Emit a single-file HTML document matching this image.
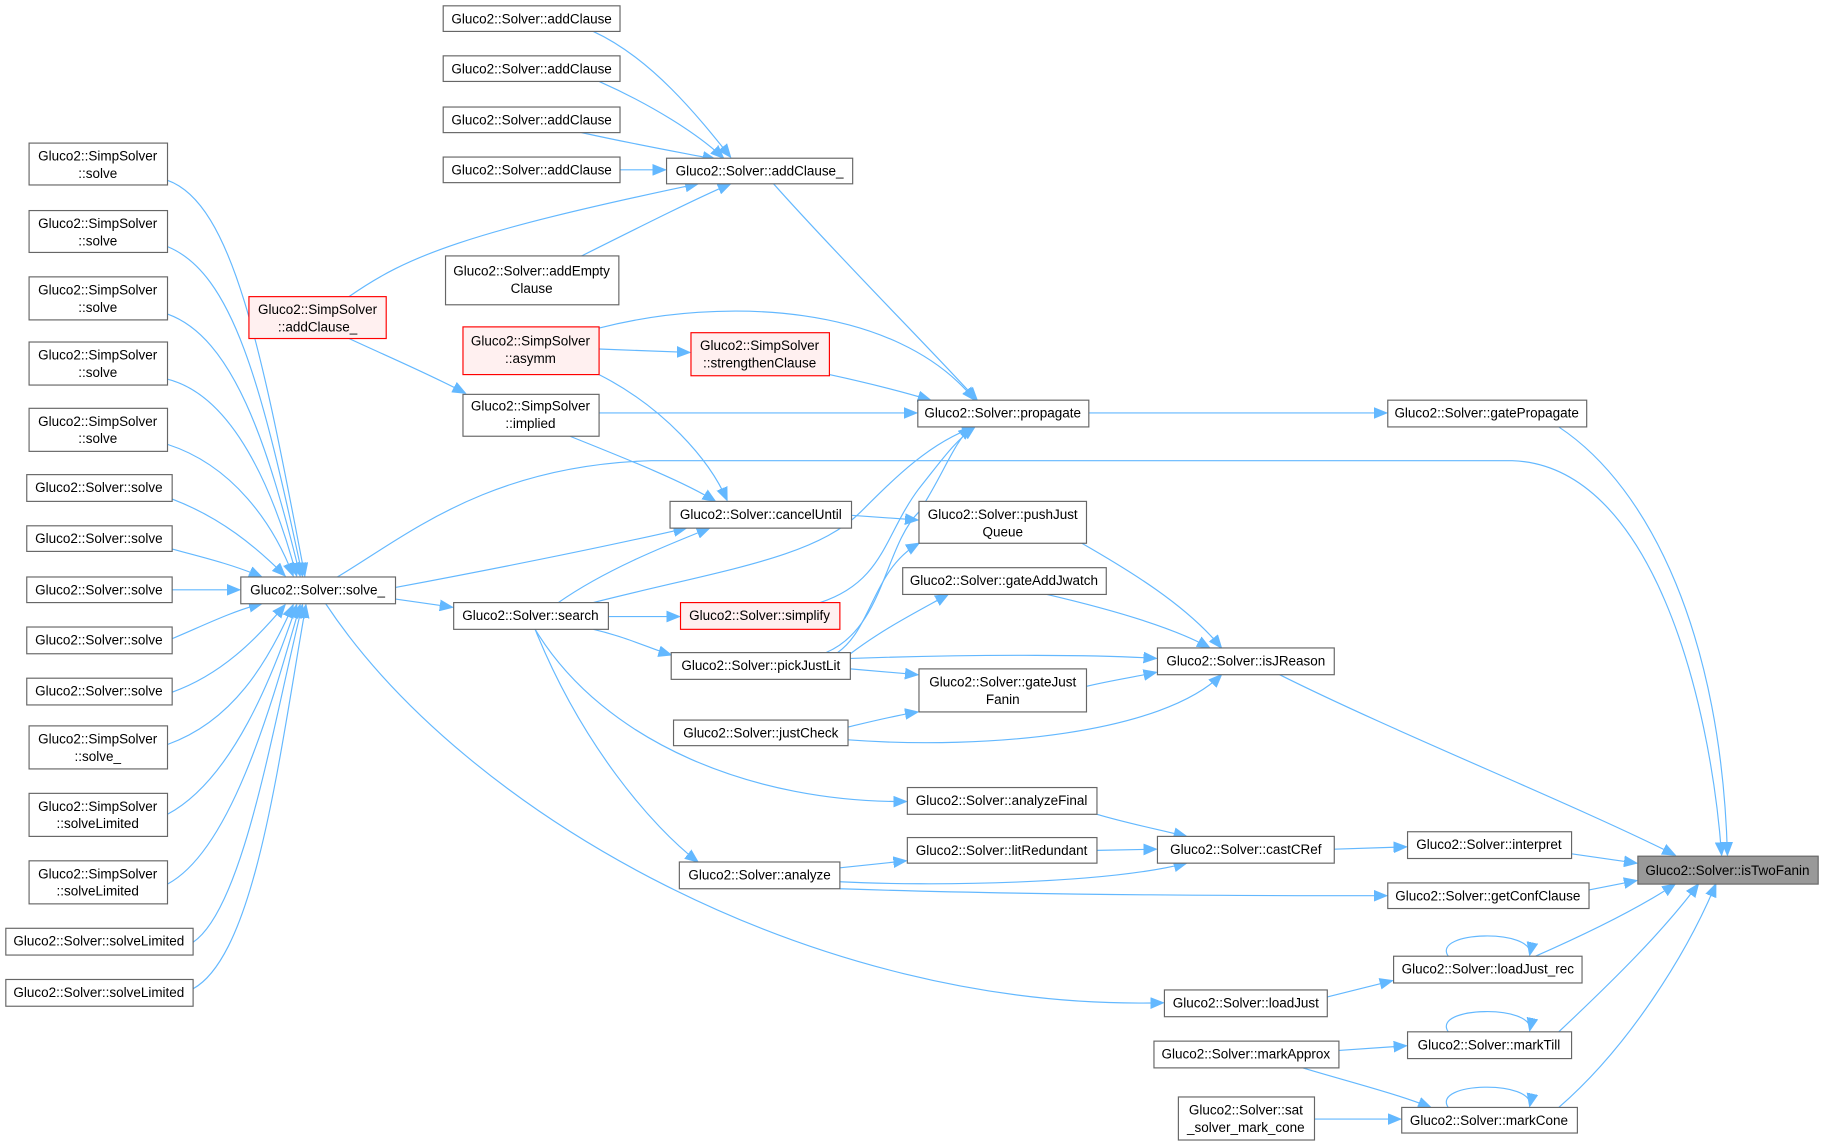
<!DOCTYPE html>
<html><head><meta charset="utf-8"><style>
html,body{margin:0;padding:0;background:#fff}
svg{display:block}
text{font-family:"Liberation Sans",Arial,sans-serif;font-size:11.6px;fill:#000}
.n{fill:#fff;stroke:#666;stroke-width:1}
.r{fill:#fff0f0;stroke:#ff0000;stroke-width:1}
.g{fill:#999;stroke:#666;stroke-width:1}
.e{fill:none;stroke:#63b8ff;stroke-width:1}
</style></head><body>
<svg width="1824" height="1147" viewBox="0 0 1568 986" xmlns="http://www.w3.org/2000/svg">
<defs><marker id="a" markerUnits="userSpaceOnUse" markerWidth="12" markerHeight="10" refX="11" refY="5" orient="auto"><path d="M0,0.5 L11,5 L0,9.5 z" fill="#63b8ff" stroke="#63b8ff"/></marker></defs>
<g marker-end="url(#a)">
<path class="e" d="M510,27 C560,50 600,100 628,135"/>
<path class="e" d="M515,70 C560,90 600,115 622,136"/>
<path class="e" d="M500,114 C550,125 590,132 615,137"/>
<path class="e" d="M533,146 L572,146"/>
<path class="e" d="M300,255 C350,220 400,200 600,158"/>
<path class="e" d="M500,220 C560,190 600,170 628,158"/>
<path class="e" d="M665,158 C720,220 800,300 840,344"/>
<path class="e" d="M515,282 C620,255 770,260 838,344"/>
<path class="e" d="M515,300 L593,303"/>
<path class="e" d="M713,322 C750,330 780,338 800,344"/>
<path class="e" d="M300,291 C330,305 370,322 400,338"/>
<path class="e" d="M515,355 L788,355"/>
<path class="e" d="M936,355 L1192,355"/>
<path class="e" d="M1340,367 C1420,420 1480,550 1485,735"/>
<path class="e" d="M290,496 C350,460 420,400 560,396 L1300,396 C1420,400 1470,600 1480,735"/>
<path class="e" d="M515,322 C570,350 610,395 625,430"/>
<path class="e" d="M490,375 C540,395 590,415 615,431"/>
<path class="e" d="M340,505 C420,490 520,470 590,454"/>
<path class="e" d="M480,518 C520,490 570,470 610,454"/>
<path class="e" d="M732,443 L789,447"/>
<path class="e" d="M510,518 C620,490 700,480 740,440 C770,410 800,380 838,367"/>
<path class="e" d="M710,561 C760,540 760,470 790,440 C810,410 820,380 835,367"/>
<path class="e" d="M705,518 C760,500 760,460 790,420 C810,395 820,380 838,367"/>
<path class="e" d="M720,561 C750,540 750,490 790,467"/>
<path class="e" d="M731,562 C760,540 790,525 815,511"/>
<path class="e" d="M731,566 C850,562 950,563 994,566"/>
<path class="e" d="M731,575 L789,580"/>
<path class="e" d="M729,625 C750,620 770,615 789,612"/>
<path class="e" d="M729,636 C850,645 1000,630 1050,580"/>
<path class="e" d="M930,467 C970,490 1020,520 1050,557"/>
<path class="e" d="M900,511 C960,525 1010,540 1040,557"/>
<path class="e" d="M934,590 C955,585 975,582 994,578"/>
<path class="e" d="M1100,580 C1200,630 1350,690 1440,735"/>
<path class="e" d="M340,515 L389,522"/>
<path class="e" d="M523,530 L584,530"/>
<path class="e" d="M510,541 C540,548 560,558 577,563"/>
<path class="e" d="M460,541 C520,640 650,690 779,689"/>
<path class="e" d="M460,541 C500,640 560,710 600,741"/>
<path class="e" d="M943,700 C970,708 1000,714 1020,719"/>
<path class="e" d="M943,731 L994,730"/>
<path class="e" d="M722,746 L779,740"/>
<path class="e" d="M722,758 C800,762 950,760 1020,742"/>
<path class="e" d="M722,764 C900,770 1100,770 1192,770"/>
<path class="e" d="M1147,730 L1209,728"/>
<path class="e" d="M1351,734 L1407,742"/>
<path class="e" d="M1366,765 L1407,757"/>
<path class="e" d="M280,519 C400,700 700,870 1000,862"/>
<path class="e" d="M1141,857 L1197,843"/>
<path class="e" d="M1320,822 C1370,800 1410,780 1440,760"/>
<path class="e" d="M1245,822 C1230,800 1320,798 1315,821"/>
<path class="e" d="M1151,903 L1209,899"/>
<path class="e" d="M1340,887 C1390,840 1430,800 1460,760"/>
<path class="e" d="M1245,887 C1230,865 1320,863 1315,886"/>
<path class="e" d="M1120,918 C1160,930 1200,940 1230,952"/>
<path class="e" d="M1130,962 L1204,962"/>
<path class="e" d="M1340,952 C1400,900 1450,820 1475,760"/>
<path class="e" d="M1245,952 C1230,930 1320,928 1315,951"/>
<!-- left column -->
<path class="e" d="M144,155 C200,175 225,300 262,495"/>
<path class="e" d="M144,212 C200,235 225,330 260,495"/>
<path class="e" d="M144,270 C200,290 230,380 258,495"/>
<path class="e" d="M144,326 C200,340 235,420 255,495"/>
<path class="e" d="M144,382 C200,400 235,450 252,495"/>
<path class="e" d="M148,429 C190,445 220,470 245,495"/>
<path class="e" d="M148,472 C170,478 200,485 225,496"/>
<path class="e" d="M148,507 L206,507"/>
<path class="e" d="M148,549 C170,540 200,525 225,519"/>
<path class="e" d="M148,595 C190,580 220,550 245,520"/>
<path class="e" d="M144,640 C200,620 230,570 252,520"/>
<path class="e" d="M144,700 C200,670 235,580 255,520"/>
<path class="e" d="M144,760 C200,730 235,600 258,520"/>
<path class="e" d="M166,810 C210,780 235,620 260,520"/>
<path class="e" d="M166,850 C220,820 240,650 263,520"/>
</g>
<!-- nodes -->
<g>
<rect class="n" x="381" y="5" width="152" height="22"/><text x="457" y="20" text-anchor="middle">Gluco2::Solver::addClause</text>
<rect class="n" x="381" y="48" width="152" height="22"/><text x="457" y="63" text-anchor="middle">Gluco2::Solver::addClause</text>
<rect class="n" x="381" y="92" width="152" height="22"/><text x="457" y="107" text-anchor="middle">Gluco2::Solver::addClause</text>
<rect class="n" x="381" y="135" width="152" height="22"/><text x="457" y="150" text-anchor="middle">Gluco2::Solver::addClause</text>
<rect class="n" x="573" y="136" width="160" height="22"/><text x="653" y="151" text-anchor="middle">Gluco2::Solver::addClause_</text>
<rect class="n" x="383" y="220" width="149" height="42"/><text x="457" y="237" text-anchor="middle">Gluco2::Solver::addEmpty</text><text x="457" y="252" text-anchor="middle">Clause</text>
<rect class="r" x="214" y="255" width="118" height="36"/><text x="273" y="270" text-anchor="middle">Gluco2::SimpSolver</text><text x="273" y="285" text-anchor="middle">::addClause_</text>
<rect class="r" x="398" y="281" width="117" height="41"/><text x="456" y="297" text-anchor="middle">Gluco2::SimpSolver</text><text x="456" y="312" text-anchor="middle">::asymm</text>
<rect class="r" x="594" y="286" width="119" height="37"/><text x="653" y="301" text-anchor="middle">Gluco2::SimpSolver</text><text x="653" y="316" text-anchor="middle">::strengthenClause</text>
<rect class="n" x="398" y="339" width="117" height="36"/><text x="456" y="353" text-anchor="middle">Gluco2::SimpSolver</text><text x="456" y="368" text-anchor="middle">::implied</text>
<rect class="n" x="789" y="344" width="147" height="23"/><text x="862" y="359" text-anchor="middle">Gluco2::Solver::propagate</text>
<rect class="n" x="1193" y="344" width="171" height="23"/><text x="1278" y="359" text-anchor="middle">Gluco2::Solver::gatePropagate</text>
<rect class="n" x="576" y="431" width="156" height="23"/><text x="654" y="446" text-anchor="middle">Gluco2::Solver::cancelUntil</text>
<rect class="n" x="790" y="431" width="144" height="36"/><text x="862" y="446" text-anchor="middle">Gluco2::Solver::pushJust</text><text x="862" y="461" text-anchor="middle">Queue</text>
<rect class="n" x="776" y="488" width="175" height="23"/><text x="863" y="503" text-anchor="middle">Gluco2::Solver::gateAddJwatch</text>
<rect class="n" x="207" y="496" width="133" height="23"/><text x="273" y="511" text-anchor="middle">Gluco2::Solver::solve_</text>
<rect class="n" x="390" y="518" width="133" height="23"/><text x="456" y="533" text-anchor="middle">Gluco2::Solver::search</text>
<rect class="r" x="585" y="518" width="137" height="23"/><text x="653" y="533" text-anchor="middle">Gluco2::Solver::simplify</text>
<rect class="n" x="577" y="561" width="154" height="23"/><text x="654" y="576" text-anchor="middle">Gluco2::Solver::pickJustLit</text>
<rect class="n" x="995" y="557" width="152" height="23"/><text x="1071" y="572" text-anchor="middle">Gluco2::Solver::isJReason</text>
<rect class="n" x="790" y="575" width="144" height="37"/><text x="862" y="590" text-anchor="middle">Gluco2::Solver::gateJust</text><text x="862" y="605" text-anchor="middle">Fanin</text>
<rect class="n" x="579" y="619" width="150" height="22"/><text x="654" y="634" text-anchor="middle">Gluco2::Solver::justCheck</text>
<rect class="n" x="780" y="677" width="163" height="23"/><text x="861" y="692" text-anchor="middle">Gluco2::Solver::analyzeFinal</text>
<rect class="n" x="780" y="720" width="163" height="22"/><text x="861" y="735" text-anchor="middle">Gluco2::Solver::litRedundant</text>
<rect class="n" x="995" y="719" width="152" height="23"/><text x="1071" y="734" text-anchor="middle">Gluco2::Solver::castCRef</text>
<rect class="n" x="1210" y="715" width="141" height="23"/><text x="1280" y="730" text-anchor="middle">Gluco2::Solver::interpret</text>
<rect class="g" x="1408" y="736" width="155" height="24"/><text x="1485" y="752" text-anchor="middle">Gluco2::Solver::isTwoFanin</text>
<rect class="n" x="584" y="741" width="138" height="23"/><text x="653" y="756" text-anchor="middle">Gluco2::Solver::analyze</text>
<rect class="n" x="1193" y="759" width="173" height="22"/><text x="1279" y="774" text-anchor="middle">Gluco2::Solver::getConfClause</text>
<rect class="n" x="1198" y="822" width="162" height="23"/><text x="1279" y="837" text-anchor="middle">Gluco2::Solver::loadJust_rec</text>
<rect class="n" x="1001" y="851" width="140" height="23"/><text x="1071" y="866" text-anchor="middle">Gluco2::Solver::loadJust</text>
<rect class="n" x="1210" y="887" width="141" height="23"/><text x="1280" y="902" text-anchor="middle">Gluco2::Solver::markTill</text>
<rect class="n" x="992" y="895" width="159" height="23"/><text x="1071" y="910" text-anchor="middle">Gluco2::Solver::markApprox</text>
<rect class="n" x="1205" y="952" width="151" height="22"/><text x="1280" y="967" text-anchor="middle">Gluco2::Solver::markCone</text>
<rect class="n" x="1013" y="943" width="117" height="37"/><text x="1071" y="958" text-anchor="middle">Gluco2::Solver::sat</text><text x="1071" y="973" text-anchor="middle">_solver_mark_cone</text>
<!-- left column -->
<rect class="n" x="25" y="123" width="119" height="36"/><text x="84" y="138" text-anchor="middle">Gluco2::SimpSolver</text><text x="84" y="153" text-anchor="middle">::solve</text>
<rect class="n" x="25" y="181" width="119" height="36"/><text x="84" y="196" text-anchor="middle">Gluco2::SimpSolver</text><text x="84" y="211" text-anchor="middle">::solve</text>
<rect class="n" x="25" y="238" width="119" height="37"/><text x="84" y="253" text-anchor="middle">Gluco2::SimpSolver</text><text x="84" y="268" text-anchor="middle">::solve</text>
<rect class="n" x="25" y="294" width="119" height="37"/><text x="84" y="309" text-anchor="middle">Gluco2::SimpSolver</text><text x="84" y="324" text-anchor="middle">::solve</text>
<rect class="n" x="25" y="351" width="119" height="37"/><text x="84" y="366" text-anchor="middle">Gluco2::SimpSolver</text><text x="84" y="381" text-anchor="middle">::solve</text>
<rect class="n" x="23" y="408" width="125" height="23"/><text x="85" y="423" text-anchor="middle">Gluco2::Solver::solve</text>
<rect class="n" x="23" y="452" width="125" height="22"/><text x="85" y="467" text-anchor="middle">Gluco2::Solver::solve</text>
<rect class="n" x="23" y="496" width="125" height="22"/><text x="85" y="511" text-anchor="middle">Gluco2::Solver::solve</text>
<rect class="n" x="23" y="539" width="125" height="23"/><text x="85" y="554" text-anchor="middle">Gluco2::Solver::solve</text>
<rect class="n" x="23" y="583" width="125" height="23"/><text x="85" y="598" text-anchor="middle">Gluco2::Solver::solve</text>
<rect class="n" x="25" y="624" width="119" height="37"/><text x="84" y="639" text-anchor="middle">Gluco2::SimpSolver</text><text x="84" y="654" text-anchor="middle">::solve_</text>
<rect class="n" x="25" y="682" width="119" height="37"/><text x="84" y="697" text-anchor="middle">Gluco2::SimpSolver</text><text x="84" y="712" text-anchor="middle">::solveLimited</text>
<rect class="n" x="25" y="740" width="119" height="37"/><text x="84" y="755" text-anchor="middle">Gluco2::SimpSolver</text><text x="84" y="770" text-anchor="middle">::solveLimited</text>
<rect class="n" x="5" y="798" width="161" height="23"/><text x="85" y="813" text-anchor="middle">Gluco2::Solver::solveLimited</text>
<rect class="n" x="5" y="842" width="161" height="23"/><text x="85" y="857" text-anchor="middle">Gluco2::Solver::solveLimited</text>
</g>
</svg>
</body></html>
